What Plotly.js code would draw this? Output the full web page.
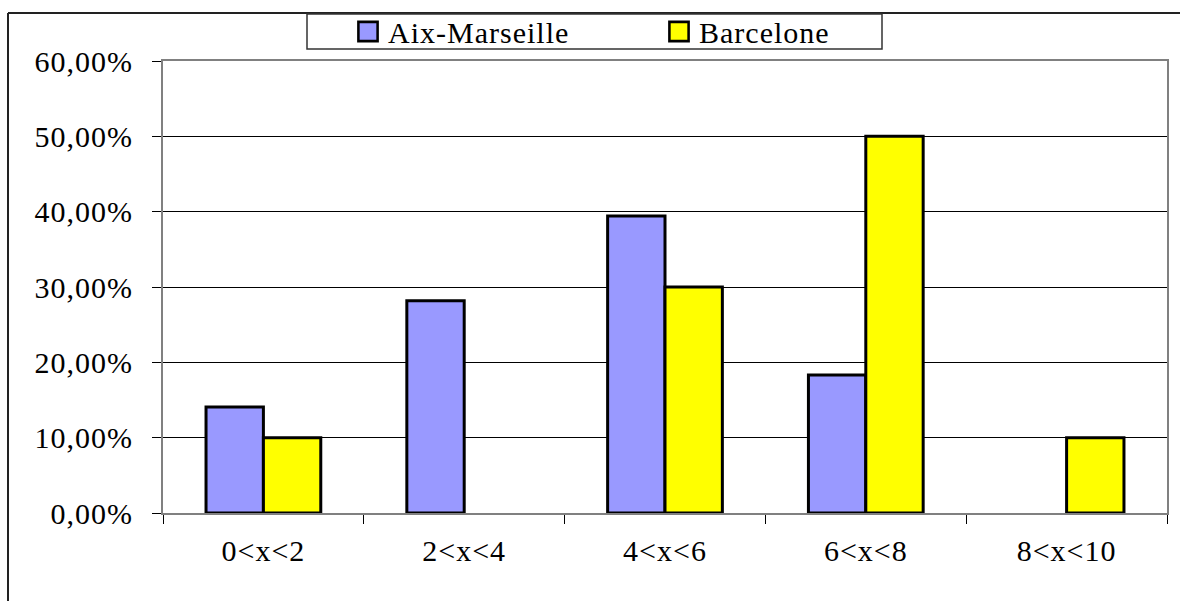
<!DOCTYPE html>
<html>
<head>
<meta charset="utf-8">
<script src="https://cdn.plot.ly/plotly-3.0.1.min.js"></script>
<style>
html,body{margin:0;padding:0;background:#fff;}
#chart{width:1180px;height:601px;}
#chart svg text{letter-spacing:1px;}
#chart .legendpoints path{transform: translate(20px,0px) scale(1.6); stroke-width:1.6px !important;}
</style>
</head>
<body>
<div id="chart"></div>
<script>
const categories = ['0<x<2', '2<x<4', '4<x<6', '6<x<8', '8<x<10'];
const aixMarseille = [0.1408, 0.2817, 0.3944, 0.1831, null];
const barcelone = [0.10, null, 0.30, 0.50, 0.10];
const seriesNames = ['Aix-Marseille', 'Barcelone'];
const yTicks = [0, 0.1, 0.2, 0.3, 0.4, 0.5, 0.6];

const W = 1180, H = 601;
const M = {l: 163, r: 13, t: 61, b: 88, autoexpand: false};
const pw = W - M.l - M.r, ph = H - M.t - M.b;
const px = x => (x - M.l) / pw;
const py = y => (H - M.b - y) / ph;

const font = {family: 'Liberation Serif, Times New Roman, serif', size: 30, color: '#000'};

const traces = [
  {type: 'bar', name: seriesNames[0], x: categories, y: aixMarseille,
   marker: {color: '#9999FF', line: {color: '#000', width: 3}}},
  {type: 'bar', name: seriesNames[1], x: categories, y: barcelone,
   marker: {color: '#FFFF00', line: {color: '#000', width: 3}}}
];

const layout = {
  width: W, height: H,
  margin: M,
  paper_bgcolor: '#fff', plot_bgcolor: '#fff',
  separators: ', ',
  font: font,
  barmode: 'group', bargap: 0.4286, bargroupgap: 0,
  showlegend: true,
  legend: {
    orientation: 'h', x: px(348), xanchor: 'left', y: py(31.5), yanchor: 'middle',
    bgcolor: 'rgba(0,0,0,0)', borderwidth: 0, font: font,
    entrywidth: 266, entrywidthmode: 'pixels', traceorder: 'normal'
  },
  xaxis: {
    type: 'category', range: [-0.5, 4.5], fixedrange: true,
    showgrid: false, showline: true, linecolor: '#808080', linewidth: 2, mirror: true,
    ticks: 'outside', tickson: 'boundaries', ticklen: 9, tickcolor: '#000', tickwidth: 1,
    ticklabelstandoff: 10, tickfont: font, zeroline: false
  },
  yaxis: {
    range: [0, 0.6], fixedrange: true, tickvals: yTicks, tickformat: '.2%',
    showgrid: true, gridcolor: '#000', gridwidth: 1,
    showline: true, linecolor: '#808080', linewidth: 2, mirror: true,
    ticks: 'outside', ticklen: 9, tickcolor: '#000', tickwidth: 1,
    ticklabelstandoff: 13, tickfont: font, zeroline: false
  },
  shapes: [
    {type: 'line', xref: 'paper', yref: 'paper', x0: px(8), x1: px(1185), y0: py(13), y1: py(13),
     line: {color: '#222', width: 2}},
    {type: 'line', xref: 'paper', yref: 'paper', x0: px(8), x1: px(8), y0: py(13), y1: py(610),
     line: {color: '#222', width: 2}},
    {type: 'rect', xref: 'paper', yref: 'paper', x0: px(307), x1: px(882), y0: py(14), y1: py(49),
     fillcolor: '#fff', line: {color: '#333', width: 1.5}}
  ]
};

Plotly.newPlot('chart', traces, layout, {displayModeBar: false, staticPlot: true});
</script>
</body>
</html>
